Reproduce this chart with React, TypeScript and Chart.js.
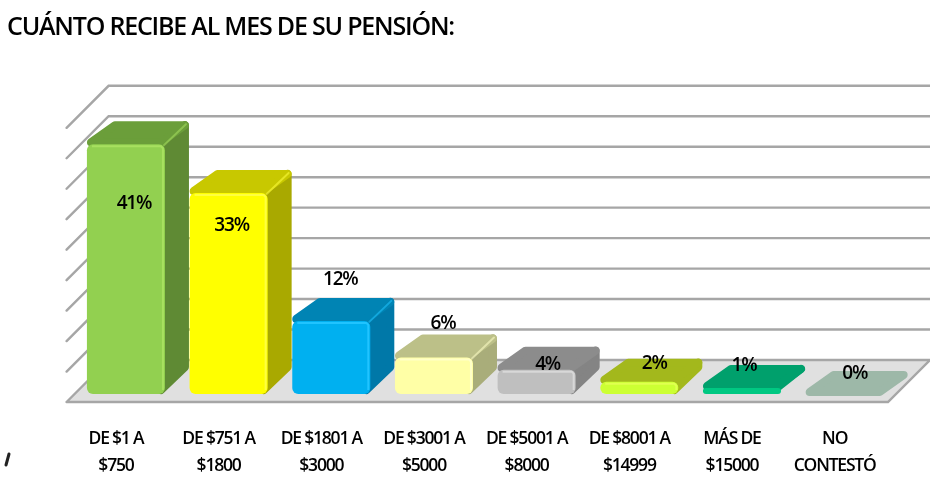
import React, { useEffect, useRef } from "react";
import { Chart, registerables } from "chart.js";

Chart.register(...registerables);

const chartTitle = "CUÁNTO RECIBE AL MES DE SU PENSIÓN:";
const categories = [
  ["DE $1 A", "$750"],
  ["DE $751 A", "$1800"],
  ["DE $1801 A", "$3000"],
  ["DE $3001 A", "$5000"],
  ["DE $5001 A", "$8000"],
  ["DE $8001 A", "$14999"],
  ["MÁS DE", "$15000"],
  ["NO", "CONTESTÓ"],
];
const values = [41, 33, 12, 6, 4, 2, 1, 0];
const frontColors = ["#92d050", "#ffff00", "#00b0f0", "#ffffa6", "#bfbfbf", "#ccff33", "#00c882", "#9db8a8"];
const topColors = ["#6b9e3a", "#c8c800", "#0084b4", "#bcc088", "#8c8c8c", "#a3b81c", "#00a06c", "#9db8a8"];
const sideColors = ["#5f8a34", "#a9a900", "#0078a8", "#a9ad7a", "#848484", "#a3b81c", "#00a06c", "#9db8a8"];
const edgeColors = ["#a8e060", "#ffff40", "#20c4ff", "#ffffc8", "#d8d8d8", "#e0ff50", "#10e09a", "#9db8a8"];
const labelNudgeX = [8, 3, 9, 9, 11, 15, 2, 10];
const labelNudgeY = [59, 33, -41, -34, -5, -18, -22, -20];

const FONT = '"Open Sans", sans-serif';

const scene = {
  id: "scene3d",
  beforeDraw(chart: any) {
    const { ctx } = chart;
    ctx.letterSpacing = "-1.2px";
    // small stray stroke at the lower-left of the source picture
    ctx.save();
    ctx.strokeStyle = "#222";
    ctx.lineWidth = 3;
    ctx.lineCap = "round";
    ctx.beginPath();
    ctx.moveTo(9, 454);
    ctx.lineTo(6, 465);
    ctx.stroke();
    ctx.restore();
  },
  beforeDatasetsDraw(chart: any) {
    const { ctx, chartArea: a, scales } = chart;
    const y = scales.y;
    const frontDX = 8, frontDY = 8, backDX = 34, backDY = 34;
    const L = a.left, R = a.right;
    ctx.save();
    // floor
    const by = y.getPixelForValue(0);
    ctx.beginPath();
    ctx.moveTo(L - frontDX, by + frontDY);
    ctx.lineTo(R - frontDX, by + frontDY);
    ctx.lineTo(R + backDX, by - backDY);
    ctx.lineTo(L + backDX, by - backDY);
    ctx.closePath();
    ctx.fillStyle = "#e0e0e0";
    ctx.fill();
    // grid from axis ticks
    ctx.lineCap = "round";
    y.ticks.forEach((t: any) => {
      const p = y.getPixelForValue(t.value);
      ctx.strokeStyle = "#a6a6a6";
      ctx.lineWidth = 2.4;
      ctx.beginPath();
      ctx.moveTo(L - frontDX, p + frontDY);
      ctx.lineTo(L + backDX, p - backDY);
      ctx.lineTo(R + backDX, p - backDY);
      if (t.value === 0) {
        ctx.lineTo(R - frontDX, p + frontDY);
        ctx.lineTo(L - frontDX, p + frontDY);
      }
      ctx.stroke();
    });
    // bar depth faces
    const dx = 24, dy = 23, r = 4;
    const meta = chart.getDatasetMeta(0);
    meta.data.forEach((bar: any, i: number) => {
      const l = bar.x - bar.width / 2, rr = bar.x + bar.width / 2;
      const top = bar.y, base = bar.base;
      const tall = base - top > 2 * r;
      ctx.lineJoin = "round";
      ctx.lineWidth = r * 2;
      if (values[i] > 0) {
        ctx.fillStyle = ctx.strokeStyle = sideColors[i];
        ctx.beginPath();
        ctx.moveTo(rr - r, top + (tall ? r : 0));
        ctx.lineTo(rr + dx - r, top - dy + r);
        ctx.lineTo(rr + dx - r, tall ? base - dy - r : top - dy + r);
        ctx.lineTo(rr - r, tall ? base - r : top);
        ctx.closePath();
        ctx.fill();
        ctx.stroke();
      }
      ctx.fillStyle = ctx.strokeStyle = topColors[i];
      ctx.beginPath();
      ctx.moveTo(l + r, top - r + 2);
      ctx.lineTo(l + dx + r, top - dy + r);
      ctx.lineTo(rr + dx - r, top - dy + r);
      ctx.lineTo(rr - r, top - r + 2);
      ctx.closePath();
      ctx.fill();
      ctx.stroke();
      if (values[i] > 4) {
        ctx.strokeStyle = edgeColors[i];
        ctx.lineWidth = 2;
        ctx.globalAlpha = 0.55;
        ctx.beginPath();
        ctx.moveTo(rr - 1, top + 1);
        ctx.lineTo(rr + dx - 3, top - dy + 3);
        ctx.stroke();
        ctx.globalAlpha = 1;
      }
    });
    ctx.restore();
  },
  afterDatasetsDraw(chart: any) {
    const { ctx } = chart;
    const meta = chart.getDatasetMeta(0);
    ctx.save();
    meta.data.forEach((bar: any, i: number) => {
      const l = bar.x - bar.width / 2, rr = bar.x + bar.width / 2;
      if (values[i] > 1) {
        ctx.strokeStyle = edgeColors[i];
        ctx.lineWidth = 2;
        ctx.lineJoin = "round";
        ctx.beginPath();
        ctx.moveTo(l + 5, bar.y + 2);
        ctx.lineTo(rr - 4, bar.y + 2);
        ctx.lineTo(rr - 2, bar.y + 4);
        ctx.lineTo(rr - 2, bar.base - 4);
        ctx.stroke();
      }
      ctx.fillStyle = "#000";
      ctx.font = `600 19px ${FONT}`;
      ctx.textAlign = "center";
      ctx.textBaseline = "middle";
      ctx.fillText(`${values[i]}%`, bar.x + labelNudgeX[i], bar.y + labelNudgeY[i]);
    });
    ctx.restore();
  },
};

export default function App() {
  const ref = useRef<HTMLCanvasElement>(null);
  useEffect(() => {
    const chart = new Chart(ref.current!, {
      type: "bar",
      data: {
        labels: categories,
        datasets: [
          {
            data: values,
            backgroundColor: frontColors,
            borderRadius: 6,
            borderSkipped: false,
            barPercentage: 0.76,
            categoryPercentage: 1,
          },
        ],
      },
      options: {
        animation: false,
        responsive: false,
        layout: { padding: { left: 7, right: 34, top: 0, bottom: 0 } },
        plugins: {
          legend: { display: false },
          tooltip: { enabled: false },
          title: {
            display: true,
            text: chartTitle,
            align: "start",
            color: "#000",
            font: { family: FONT, size: 25, weight: "600" },
            padding: { top: 13, bottom: 76.8 },
          },
        },
        scales: {
          x: {
            grid: { display: false, drawTicks: false },
            border: { display: false },
            ticks: {
              color: "#000",
              padding: 32,
              labelOffset: -10,
              maxRotation: 0,
              autoSkip: false,
              font: { family: FONT, size: 17.5, weight: "600", lineHeight: 1.54 },
            },
            afterFit(s: any) {
              s.height = 83;
            },
          },
          y: {
            display: true,
            min: 0,
            max: 45,
            grid: { display: false, drawTicks: false },
            border: { display: false },
            ticks: { stepSize: 5, display: false },
            afterFit(s: any) {
              s.width = 67.6;
            },
          },
        },
      },
      plugins: [scene],
    } as any);
    return () => chart.destroy();
  }, []);
  return (
    <div style={{ position: "fixed", left: 0, top: 0, width: 930, height: 477, background: "#fff" }}>
      <canvas ref={ref} width={930} height={477} style={{ display: "block" }} />
    </div>
  );
}
